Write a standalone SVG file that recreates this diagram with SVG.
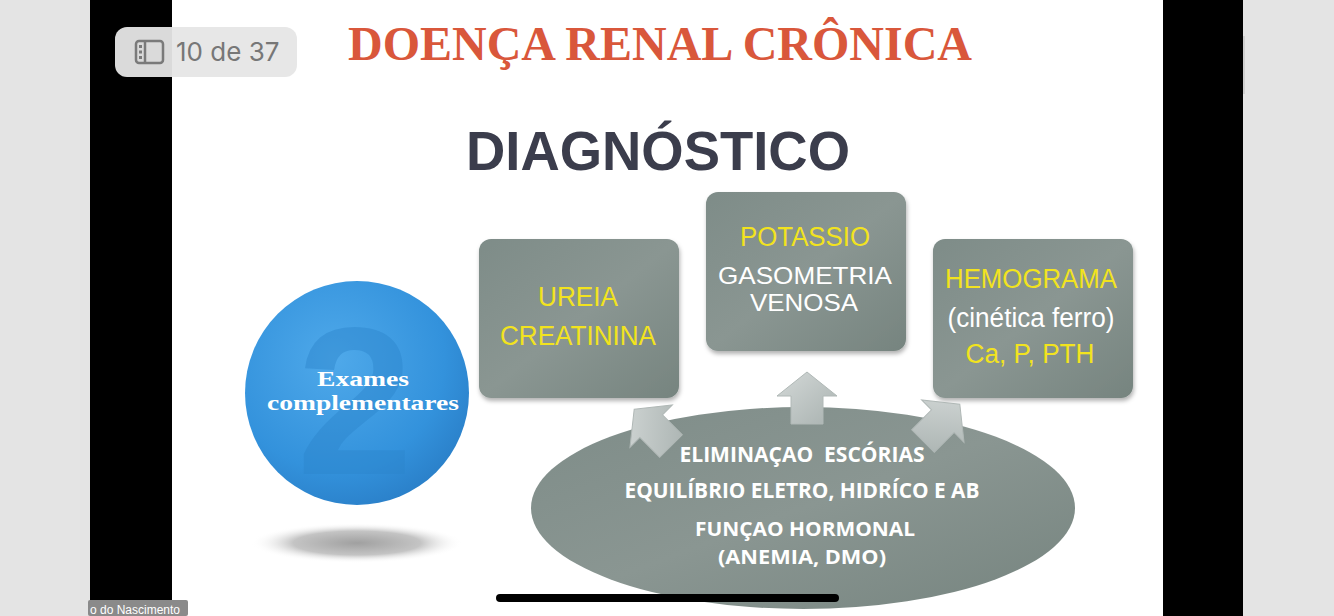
<svg xmlns="http://www.w3.org/2000/svg" width="1334" height="616" viewBox="0 0 1334 616">
<style>
.box{fill:url(#boxg);}
.bt{font-family:"Liberation Sans",Arial,sans-serif;font-size:27px;text-anchor:middle;}
.bt2{font-size:24px;}
.y{fill:#f2e31e;}
.w{fill:#ffffff;}
.et{font-family:"Open Sans","DejaVu Sans",sans-serif;font-weight:bold;font-size:22px;fill:#ffffff;text-anchor:middle;}
.et2{font-size:20px;}
.ct{font-family:"Liberation Serif","Times New Roman",serif;font-weight:bold;font-size:22px;fill:#ffffff;text-anchor:middle;}
.arr{fill:url(#arrg);stroke:#b0b8b6;stroke-width:1;}
</style>
<defs>
<linearGradient id="boxg" x1="0" y1="0" x2="1" y2="1">
<stop offset="0" stop-color="#7e8c88"/>
<stop offset="0.5" stop-color="#8a9692"/>
<stop offset="1" stop-color="#76847f"/>
</linearGradient>
<linearGradient id="arrg" x1="0" y1="0" x2="1" y2="1">
<stop offset="0" stop-color="#d4d9d8"/>
<stop offset="1" stop-color="#a9b2b0"/>
</linearGradient>
<radialGradient id="cirg" cx="0.4" cy="0.35" r="0.7">
<stop offset="0" stop-color="#4fa9ea"/>
<stop offset="0.7" stop-color="#3392dc"/>
<stop offset="1" stop-color="#2a7fc8"/>
</radialGradient>
<radialGradient id="shadg" cx="0.5" cy="0.5" r="0.5">
<stop offset="0" stop-color="#a0a0a0"/>
<stop offset="0.6" stop-color="#c4c4c4"/>
<stop offset="1" stop-color="#ffffff" stop-opacity="0"/>
</radialGradient>
<filter id="ds" x="-10%" y="-10%" width="120%" height="125%">
<feDropShadow dx="1" dy="3" stdDeviation="2" flood-color="#000" flood-opacity="0.3"/>
</filter>
<path id="arrow" d="M0,-28 L30,-4 L16,-4 L16,24 L-16,24 L-16,-4 L-30,-4 Z"/>
</defs>
<rect x="0" y="0" width="1334" height="616" fill="#e4e4e4"/>
<rect x="90" y="0" width="1153" height="616" fill="#000000"/>
<rect x="172" y="0" width="991" height="616" fill="#ffffff"/>
<rect x="1243" y="36" width="2" height="58" fill="#cfcfcf"/>
<g id="title">
<text x="660" y="60" font-family="Liberation Serif,'Times New Roman',serif" font-weight="bold" font-size="48" fill="#d9573b" text-anchor="middle" textLength="624" lengthAdjust="spacingAndGlyphs">DOENÇA RENAL CRÔNICA</text>
<text x="658" y="170" font-family="Liberation Sans,Arial,sans-serif" font-weight="bold" font-size="56" fill="#3b3d4c" text-anchor="middle" textLength="384" lengthAdjust="spacingAndGlyphs">DIAGNÓSTICO</text>
</g>
<g id="circle">
<ellipse cx="357" cy="543" rx="106" ry="20" fill="url(#shadg)"/>
<circle cx="357" cy="393" r="112" fill="url(#cirg)"/>
<text x="355" y="474" font-family="Liberation Sans,Arial,sans-serif" font-weight="bold" font-size="210" fill="#2c85cc" opacity="0.45" text-anchor="middle">2</text>
<text class="ct" x="363" y="386" textLength="92" lengthAdjust="spacingAndGlyphs">Exames</text>
<text class="ct" x="363" y="410" textLength="192" lengthAdjust="spacingAndGlyphs">complementares</text>
</g>
<g id="box-ureia">
<rect class="box" x="479" y="239" width="200" height="159" rx="12" filter="url(#ds)"/>
<text class="bt y" x="578" y="306" textLength="80" lengthAdjust="spacingAndGlyphs">UREIA</text>
<text class="bt y" x="578" y="345" textLength="156" lengthAdjust="spacingAndGlyphs">CREATININA</text>
</g>
<g id="box-potassio">
<rect class="box" x="706" y="192" width="200" height="159" rx="12" filter="url(#ds)"/>
<text class="bt y" x="805" y="246" textLength="130" lengthAdjust="spacingAndGlyphs">POTASSIO</text>
<text class="bt bt2 w" x="805" y="284" textLength="174" lengthAdjust="spacingAndGlyphs">GASOMETRIA</text>
<text class="bt bt2 w" x="804" y="311" textLength="108" lengthAdjust="spacingAndGlyphs">VENOSA</text>
</g>
<g id="box-hemograma">
<rect class="box" x="933" y="239" width="200" height="159" rx="12" filter="url(#ds)"/>
<text class="bt y" x="1031" y="288" textLength="172" lengthAdjust="spacingAndGlyphs">HEMOGRAMA</text>
<text class="bt w" x="1031" y="327" textLength="167" lengthAdjust="spacingAndGlyphs">(cinética ferro)</text>
<text class="bt y" x="1030" y="363" textLength="129" lengthAdjust="spacingAndGlyphs">Ca, P, PTH</text>
</g>
<g id="ellipse-funcoes">
<ellipse cx="803" cy="508" rx="272" ry="101" fill="url(#boxg)"/>
<text class="et" x="802" y="462" textLength="245" lengthAdjust="spacingAndGlyphs">ELIMINAÇAO&#160;&#160;ESCÓRIAS</text>
<text class="et" x="802" y="498" textLength="355" lengthAdjust="spacingAndGlyphs">EQUILÍBRIO ELETRO, HIDRÍCO E AB</text>
<text class="et et2" x="805" y="536" textLength="220" lengthAdjust="spacingAndGlyphs">FUNÇAO HORMONAL</text>
<text class="et et2" x="802" y="564" textLength="168" lengthAdjust="spacingAndGlyphs">(ANEMIA, DMO)</text>
</g>
<g id="connectors">
<use href="#arrow" class="arr" transform="translate(807,400)"/>
<use href="#arrow" class="arr" transform="translate(654,429) rotate(-45)"/>
<use href="#arrow" class="arr" transform="translate(940,424) rotate(45)"/>
</g>
<g id="overlay">
<rect x="115" y="27" width="182" height="50" rx="12" fill="#e6e6e6" opacity="0.95"/>
<rect x="136" y="41" width="27" height="22" rx="3" fill="none" stroke="#7a7a7a" stroke-width="2.5"/>
<line x1="145" y1="41" x2="145" y2="63" stroke="#7a7a7a" stroke-width="2.5"/>
<rect x="139" y="45" width="3" height="3" fill="#7a7a7a"/>
<rect x="139" y="50.5" width="3" height="3" fill="#7a7a7a"/>
<rect x="139" y="56" width="3" height="3" fill="#7a7a7a"/>
<text x="176" y="61" font-family="Inter,'Liberation Sans',sans-serif" font-size="26" fill="#777777">10 de 37</text>
<rect x="496" y="594" width="343" height="8" rx="4" fill="#000000"/>
<rect x="88" y="600" width="100" height="16" rx="2" fill="#8a8a8a"/>
<text x="90" y="614" font-family="'Liberation Sans',Arial,sans-serif" font-size="12" fill="#ffffff">o do Nascimento</text>
</g>
</svg>
